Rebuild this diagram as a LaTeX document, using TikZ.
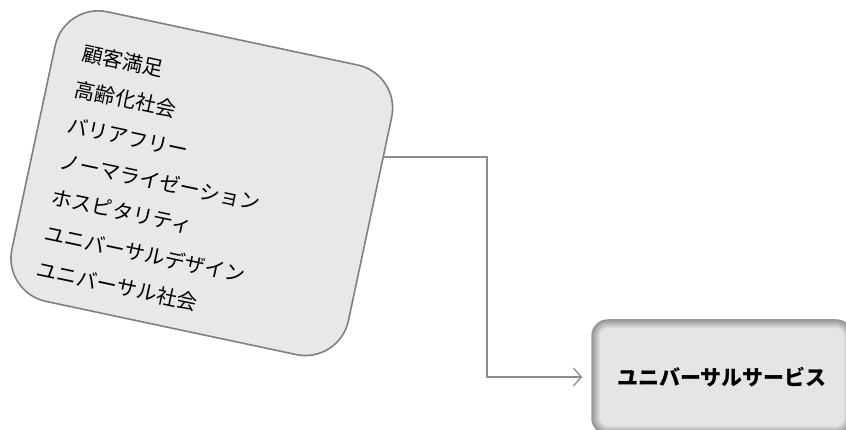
\documentclass[tikz,border=0pt]{standalone}
\usepackage{fontspec}
\usepackage{xcolor}
\usepackage{tikz}
\usetikzlibrary{arrows.meta, positioning, calc}
\newfontfamily\jpfont{Noto Sans CJK JP}
\definecolor{boxfill}{RGB}{231,232,234}
\definecolor{boxline}{RGB}{128,128,128}
\definecolor{linkgray}{RGB}{140,140,140}
\definecolor{svcfill}{RGB}{228,229,231}
\definecolor{svcline}{RGB}{150,150,152}
\tikzset{
  topicbox/.style={draw=boxline, line width=1.6pt, fill=boxfill, rounded corners=44pt,
    rotate=-12, minimum width=344pt, minimum height=296pt, inner sep=0pt},
  topictext/.style={rotate=-12, anchor=north west, align=left, inner sep=0pt,
    font=\jpfont\fontsize{20.5}{36.9}\selectfont},
  servicebox/.style={draw=svcline, line width=1.5pt, fill=svcfill, rounded corners=16pt,
    minimum width=260pt, minimum height=114pt,
    font=\jpfont\bfseries\fontsize{21}{24}\selectfont,
    path picture={\foreach \w in {2,4,...,16}{
      \draw[black, opacity=0.045, line width=\w pt, rounded corners=16pt]
        (path picture bounding box.south west) rectangle (path picture bounding box.north east);}}},
  link/.style={draw=linkgray, line width=1.3pt, -{Straight Barb[length=8pt,width=18pt]}}
}
\begin{document}
\begin{tikzpicture}[x=1pt, y=-1pt]
    \useasboundingbox (0,0) rectangle (846,430);

    % 関連キーワード
    \node[topicbox] (topics) at (201.8,183.2) {};
    \node[topictext] (topiclist) at (85,43) {顧客満足\\高齢化社会\\バリアフリー\\ノーマライゼーション\\ホスピタリティ\\ユニバーサルデザイン\\ユニバーサル社会};

    % ユニバーサルサービス
    \node[servicebox] (service) at (722,377) {ユニバーサルサービス};

    % 接続線
    \coordinate (tap) at ($(topics.north east)!0.287!(topics.south east)$);
    \coordinate (elbow) at (487,377);
    \draw[link] (tap) -- (tap -| elbow) -- (elbow) -- ([xshift=-9pt]service.west);
\end{tikzpicture}
\end{document}
